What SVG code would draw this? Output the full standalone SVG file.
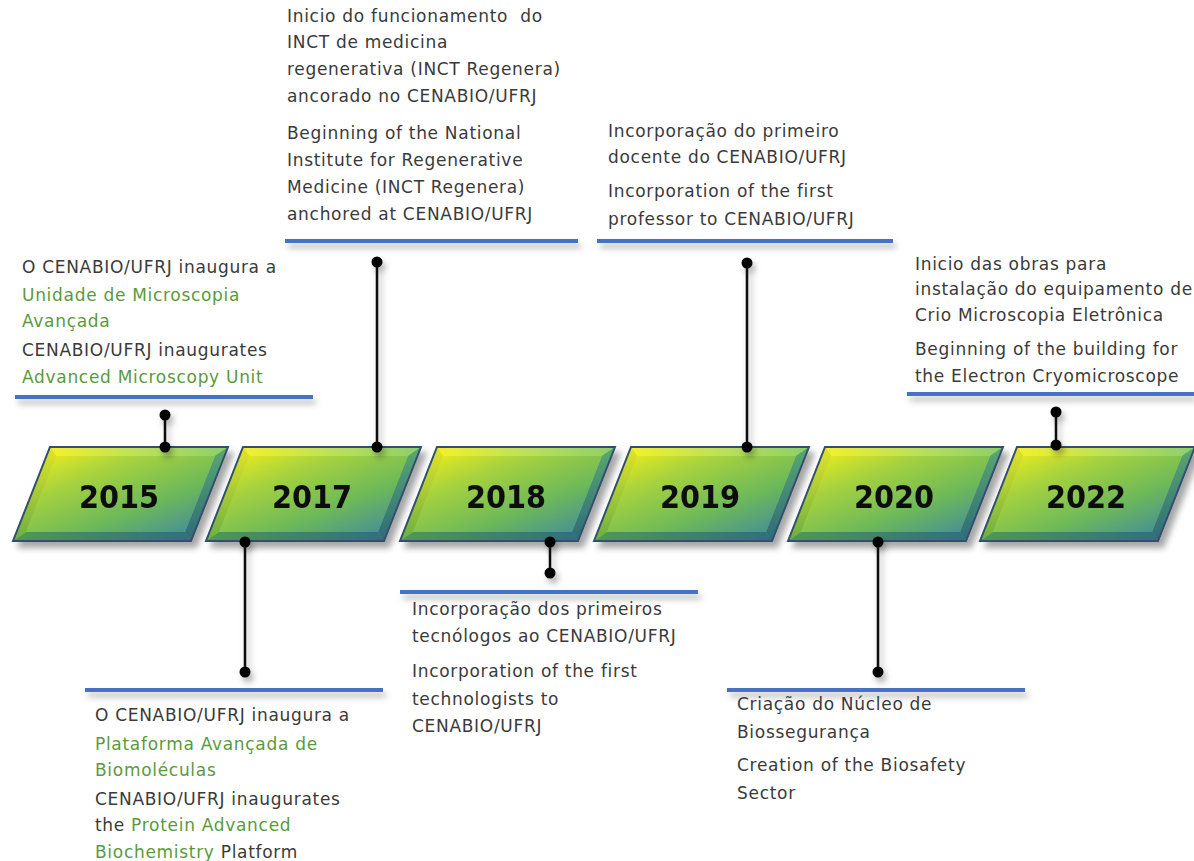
<svg xmlns="http://www.w3.org/2000/svg" xmlns:xlink="http://www.w3.org/1999/xlink" width="1194" height="861" viewBox="0 0 1194 861">
<defs>
<linearGradient id="face" x1="0" y1="0" x2="1" y2="1">
<stop offset="0" stop-color="#f2ee1a"/>
<stop offset="0.3" stop-color="#a6d23e"/>
<stop offset="0.65" stop-color="#6cb85a"/>
<stop offset="1" stop-color="#3f88a2"/>
</linearGradient>
<linearGradient id="bevTop" x1="0" y1="0" x2="1" y2="0">
<stop offset="0" stop-color="#f4f02a"/>
<stop offset="0.5" stop-color="#bde05a"/>
<stop offset="1" stop-color="#8ccf6a"/>
</linearGradient>
<linearGradient id="bevLeft" x1="0" y1="0" x2="0" y2="1">
<stop offset="0" stop-color="#e2e428"/>
<stop offset="1" stop-color="#6aae44"/>
</linearGradient>
<linearGradient id="bevBot" x1="0" y1="0" x2="1" y2="0">
<stop offset="0" stop-color="#4e9a50"/>
<stop offset="1" stop-color="#2f6f80"/>
</linearGradient>
<linearGradient id="bevRight" x1="0" y1="0" x2="0" y2="1">
<stop offset="0" stop-color="#5aa870"/>
<stop offset="1" stop-color="#2e6a7a"/>
</linearGradient>
<filter id="sh" x="-20%" y="-20%" width="150%" height="160%">
<feDropShadow dx="5" dy="6" stdDeviation="3" flood-color="#000" flood-opacity="0.35"/>
</filter>
<filter id="lsh" filterUnits="userSpaceOnUse" x="0" y="0" width="1194" height="861">
<feDropShadow dx="3" dy="5" stdDeviation="3" flood-color="#000" flood-opacity="0.3"/>
</filter>
<g id="box">
<polygon points="0,447 178,447 141,541 -37,541" fill="url(#face)"/>
<polygon points="0,447 178,447 165,456 6,456" fill="url(#bevTop)"/>
<polygon points="0,447 6,456 -24,532 -37,541" fill="url(#bevLeft)"/>
<polygon points="-37,541 -24,532 135,532 141,541" fill="url(#bevBot)"/>
<polygon points="178,447 141,541 135,532 165,456" fill="url(#bevRight)"/>
<polygon points="6,456 165,456 135,532 -24,532" fill="url(#face)"/>
<polygon points="0,447 178,447 141,541 -37,541" fill="none" stroke="#33506e" stroke-width="2"/>
</g>
<style>
.yr{font-family:"DejaVu Sans Condensed","DejaVu Sans",Verdana,sans-serif;font-weight:bold;font-size:32px;fill:#111;text-anchor:middle}
.t{font-family:"DejaVu Sans",Verdana,sans-serif;font-size:17px;letter-spacing:0.7px;fill:#3a3a3a}
.g{fill:#5b9a3c}
.rule{stroke:#4472c4;stroke-width:4;fill:none}
.cn{stroke:#111;stroke-width:2.5;fill:none}
.dot{fill:#000}
</style>
</defs>
<rect width="1194" height="861" fill="#fff"/>

<g id="y2015" filter="url(#sh)"><use href="#box" transform="translate(50,0)"/><text class="yr" x="119" y="508">2015</text></g>
<g id="y2017" filter="url(#sh)"><use href="#box" transform="translate(243,0)"/><text class="yr" x="312" y="508">2017</text></g>
<g id="y2018" filter="url(#sh)"><use href="#box" transform="translate(437,0)"/><text class="yr" x="506" y="508">2018</text></g>
<g id="y2019" filter="url(#sh)"><use href="#box" transform="translate(631,0)"/><text class="yr" x="700" y="508">2019</text></g>
<g id="y2020" filter="url(#sh)"><use href="#box" transform="translate(825,0)"/><text class="yr" x="894" y="508">2020</text></g>
<g id="y2022" filter="url(#sh)"><use href="#box" transform="translate(1017,0)"/><text class="yr" x="1086" y="508">2022</text></g>

<g id="c2015">
<text class="t" x="22" y="273">O CENABIO/UFRJ inaugura a</text>
<text class="t g" x="22" y="301">Unidade de Microscopia</text>
<text class="t g" x="22" y="327">Avançada</text>
<text class="t" x="22" y="356">CENABIO/UFRJ inaugurates</text>
<text class="t g" x="22" y="383">Advanced Microscopy Unit</text>
<line class="rule" x1="15" y1="397" x2="313" y2="397" filter="url(#lsh)"/>
</g>

<g id="c2017a">
<text class="t" x="287" y="22">Inicio do funcionamento &#160;do</text>
<text class="t" x="287" y="48">INCT de medicina</text>
<text class="t" x="287" y="75">regenerativa (INCT Regenera)</text>
<text class="t" x="287" y="102">ancorado no CENABIO/UFRJ</text>
<text class="t" x="287" y="139">Beginning of the National</text>
<text class="t" x="287" y="166">Institute for Regenerative</text>
<text class="t" x="287" y="193">Medicine (INCT Regenera)</text>
<text class="t" x="287" y="220">anchored at CENABIO/UFRJ</text>
<line class="rule" x1="285" y1="241" x2="578" y2="241" filter="url(#lsh)"/>
</g>

<g id="c2019">
<text class="t" x="608" y="137">Incorporação do primeiro</text>
<text class="t" x="608" y="163">docente do CENABIO/UFRJ</text>
<text class="t" x="608" y="197">Incorporation of the first</text>
<text class="t" x="608" y="225">professor to CENABIO/UFRJ</text>
<line class="rule" x1="597" y1="241" x2="893" y2="241" filter="url(#lsh)"/>
</g>

<g id="c2022">
<text class="t" x="915" y="270">Inicio das obras para</text>
<text class="t" x="915" y="295">instalação do equipamento de</text>
<text class="t" x="915" y="321">Crio Microscopia Eletrônica</text>
<text class="t" x="915" y="355">Beginning of the building for</text>
<text class="t" x="915" y="382">the Electron Cryomicroscope</text>
<line class="rule" x1="907" y1="394" x2="1194" y2="394" filter="url(#lsh)"/>
</g>

<g id="c2017b">
<line class="rule" x1="85" y1="690" x2="383" y2="690" filter="url(#lsh)"/>
<text class="t" x="95" y="721">O CENABIO/UFRJ inaugura a</text>
<text class="t g" x="95" y="750">Plataforma Avançada de</text>
<text class="t g" x="95" y="776">Biomoléculas</text>
<text class="t" x="95" y="805">CENABIO/UFRJ inaugurates</text>
<text class="t" x="95" y="831">the <tspan class="g">Protein Advanced</tspan></text>
<text class="t" x="95" y="858"><tspan class="g">Biochemistry</tspan> Platform</text>
</g>

<g id="c2018">
<line class="rule" x1="400" y1="592" x2="698" y2="592" filter="url(#lsh)"/>
<text class="t" x="412" y="615">Incorporação dos primeiros</text>
<text class="t" x="412" y="642">tecnólogos ao CENABIO/UFRJ</text>
<text class="t" x="412" y="677">Incorporation of the first</text>
<text class="t" x="412" y="705">technologists to</text>
<text class="t" x="412" y="732">CENABIO/UFRJ</text>
</g>

<g id="c2020">
<line class="rule" x1="727" y1="690" x2="1025" y2="690" filter="url(#lsh)"/>
<text class="t" x="737" y="710">Criação do Núcleo de</text>
<text class="t" x="737" y="738">Biossegurança</text>
<text class="t" x="737" y="771">Creation of the Biosafety</text>
<text class="t" x="737" y="799">Sector</text>
</g>

<g id="connectors" filter="url(#lsh)">
<line class="cn" x1="165" y1="415" x2="165" y2="447"/>
<circle class="dot" cx="165" cy="415" r="5.5"/><circle class="dot" cx="165" cy="447" r="5.5"/>
<line class="cn" x1="377" y1="262" x2="377" y2="447"/>
<circle class="dot" cx="377" cy="262" r="5.5"/><circle class="dot" cx="377" cy="447" r="5.5"/>
<line class="cn" x1="747" y1="263" x2="747" y2="447"/>
<circle class="dot" cx="747" cy="263" r="5.5"/><circle class="dot" cx="747" cy="447" r="5.5"/>
<line class="cn" x1="1056" y1="412" x2="1056" y2="445"/>
<circle class="dot" cx="1056" cy="412" r="5.5"/><circle class="dot" cx="1056" cy="445" r="5.5"/>
<line class="cn" x1="245" y1="542" x2="245" y2="672"/>
<circle class="dot" cx="245" cy="542" r="5.5"/><circle class="dot" cx="245" cy="672" r="5.5"/>
<line class="cn" x1="550" y1="542" x2="550" y2="573"/>
<circle class="dot" cx="550" cy="542" r="5.5"/><circle class="dot" cx="550" cy="573" r="5.5"/>
<line class="cn" x1="878" y1="542" x2="878" y2="672"/>
<circle class="dot" cx="878" cy="542" r="5.5"/><circle class="dot" cx="878" cy="672" r="5.5"/>
</g>
</svg>
